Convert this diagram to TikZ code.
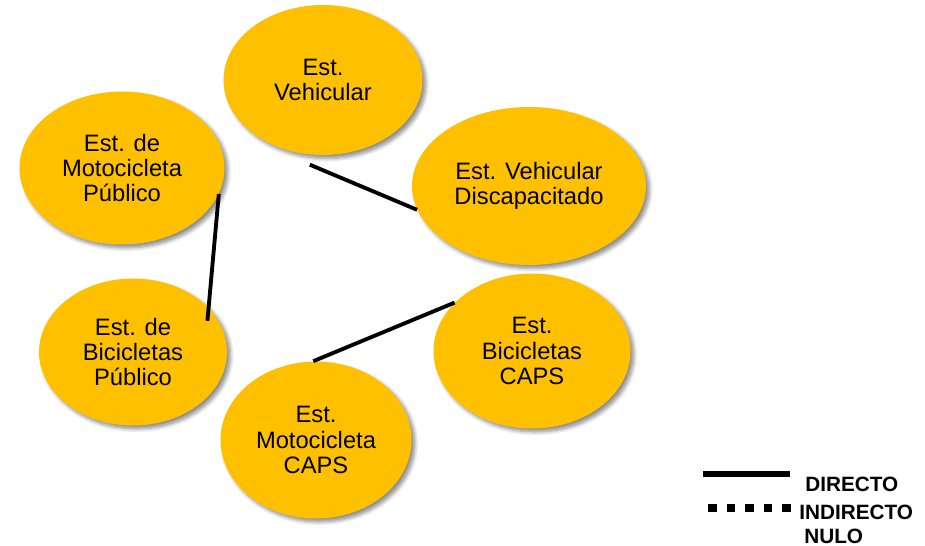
\documentclass[tikz,border=0pt]{standalone}
\usepackage{fontspec}
\setmainfont{Liberation Sans}
\usepackage{xcolor}
\usepackage{tikz}
\usetikzlibrary{shapes.geometric, shadows.blur}
\definecolor{estgold}{HTML}{FFC000}

\begin{document}
\begin{tikzpicture}[
        est/.style={ellipse, fill=estgold, inner sep=0pt, align=center,
                    font=\fontsize{13.5}{14.5}\selectfont,
                    minimum width=#1,
                    blur shadow={shadow xshift=0.07cm, shadow yshift=-0.07cm,
                                 shadow blur steps=6, shadow opacity=45}},
        conn/.style={line width=2.2pt},
        legtext/.style={anchor=base west, inner sep=0pt,
                        font=\fontsize{11.8}{12}\selectfont\bfseries},
    ]
        \useasboundingbox (0,0) rectangle (18.5,-10.9);

        %--- Estacionamientos ---
        \node[est=3.98cm, minimum height=3.0cm]  (veh)   at (6.46,-1.6)   {Est.\\Vehicular};
        \node[est=4.68cm, minimum height=3.16cm] (disc)  at (10.58,-3.72) {Est. Vehicular\\Discapacitado};
        \node[est=4.1cm,  minimum height=3.06cm] (moto)  at (2.44,-3.36)  {Est. de\\Motocicleta\\Público};
        \node[est=3.76cm, minimum height=2.94cm] (bic)   at (2.66,-7.04)  {Est. de\\Bicicletas\\Público};
        \node[est=3.94cm, minimum height=3.1cm]  (bcaps) at (10.64,-7.02) {Est.\\Bicicletas\\CAPS};
        \node[est=3.82cm, minimum height=3.14cm] (mcaps) at (6.32,-8.8)   {Est.\\Motocicleta\\CAPS};

        %--- Relaciones ---
        \draw[conn] ([yshift=-0.2cm]veh.260) -- (disc.192);
        \draw[conn] (moto.345) -- ([shift={(-0.17,-0.08)}]bic.23);
        \draw[conn] (mcaps.92) -- (bcaps.148);

        %--- Leyenda ---
        \coordinate (dirA) at (14.06,-9.48);
        \coordinate (dirB) at (15.8,-9.48);
        \coordinate (indA) at (14.16,-10.16);
        \coordinate (indB) at (15.84,-10.16);
        \draw[line width=0.12cm] (dirA) -- (dirB);
        \draw[line width=0.15cm, dash pattern=on 0.17cm off 0.2cm] (indA) -- (indB);

        \node[legtext] (ldir)  at (16.1,-9.82)  {DIRECTO};
        \node[legtext] (lind)  at (15.98,-10.38) {INDIRECTO};
        \node[legtext] (lnulo) at (16.08,-10.86) {NULO};
    \end{tikzpicture}
\end{document}
